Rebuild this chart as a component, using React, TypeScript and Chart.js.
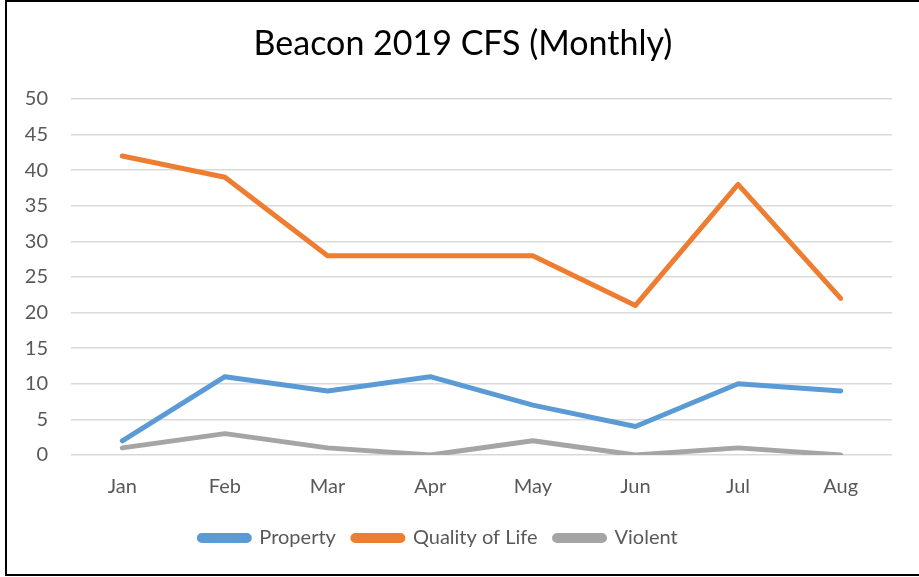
import React, { useEffect, useRef } from "react";
import { Chart, registerables } from "chart.js";

Chart.register(...registerables);

const months = ["Jan", "Feb", "Mar", "Apr", "May", "Jun", "Jul", "Aug"];
const property = [2, 11, 9, 11, 7, 4, 10, 9];
const qualityOfLife = [42, 39, 28, 28, 28, 21, 38, 22];
const violent = [1, 3, 1, 0, 2, 0, 1, 0];
const yMin = 0;
const yMax = 50;
const yStep = 5;

const FONT = "Lato, 'Open Sans', sans-serif";
const GRAY_TEXT = "#595959";

const borderPlugin = {
  id: "frameBorder",
  afterDraw(chart: any) {
    const ctx = chart.ctx;
    ctx.save();
    ctx.strokeStyle = "#000";
    ctx.lineWidth = 2;
    ctx.strokeRect(6, 1, 920, 574);
    ctx.restore();
  },
};

const bgPlugin = {
  id: "bgWhite",
  beforeDraw(chart: any) {
    const ctx = chart.ctx;
    ctx.save();
    ctx.fillStyle = "#fff";
    ctx.fillRect(0, 0, chart.width, chart.height);
    ctx.restore();
  },
};

// nudge title and legend horizontally to match the original placement
const shiftPlugin = {
  id: "shiftBlocks",
  afterLayout(chart: any) {
    const t = chart.titleBlock;
    if (t) {
      t.left += 17;
      t.right += 17;
    }
    const l = chart.legend;
    if (l) {
      l.left -= 7.5;
      l.right -= 7.5;
    }
  },
};

function lineDataset(label: string, data: number[], color: string) {
  return {
    label,
    data,
    borderColor: color,
    backgroundColor: color,
    borderWidth: 5,
    borderCapStyle: "round",
    borderJoinStyle: "round",
    pointRadius: 0,
    tension: 0,
  };
}

export default function App() {
  const ref = useRef<HTMLCanvasElement>(null);
  useEffect(() => {
    if (!ref.current) return;
    const chart = new Chart(ref.current, {
      type: "line",
      data: {
        labels: months,
        datasets: [
          lineDataset("Property", property, "#5B9BD5"),
          lineDataset("Quality of Life", qualityOfLife, "#ED7D31"),
          lineDataset("Violent", violent, "#A5A5A5"),
        ],
      },
      options: {
        animation: false,
        responsive: true,
        maintainAspectRatio: false,
        layout: { padding: { left: 0, right: 27, top: 0, bottom: 19 } },
        plugins: {
          title: {
            display: true,
            text: "Beacon 2019 CFS (Monthly)",
            color: "#000",
            font: { family: FONT, size: 34, weight: "normal", lineHeight: 1.2 },
            padding: { top: 24, bottom: 34.2 },
          },
          legend: {
            position: "bottom",
            labels: {
              color: GRAY_TEXT,
              font: { family: FONT, size: 20 },
              boxWidth: 50,
              boxHeight: 5,
              useBorderRadius: true,
              borderRadius: 2.5,
              padding: 17,
            },
          },
          tooltip: { enabled: false },
        },
        scales: {
          x: {
            offset: true,
            grid: { display: false },
            border: { display: false },
            ticks: {
              color: GRAY_TEXT,
              font: { family: FONT, size: 20 },
              padding: 12,
            },
            afterFit(scale: any) {
              scale.height = 56;
            },
          },
          y: {
            min: yMin,
            max: yMax,
            border: { display: false },
            grid: { color: "#D9D9D9", lineWidth: 1.5, drawTicks: false },
            ticks: {
              stepSize: yStep,
              color: GRAY_TEXT,
              font: { family: FONT, size: 20 },
              padding: 23,
            },
            afterFit(scale: any) {
              scale.width = 71;
            },
          },
        },
      },
      plugins: [bgPlugin, shiftPlugin, borderPlugin],
    } as any);
    return () => chart.destroy();
  }, []);
  return (
    <div style={{ position: "absolute", left: 0, top: 0, width: 919, height: 577 }}>
      <canvas ref={ref} />
    </div>
  );
}
